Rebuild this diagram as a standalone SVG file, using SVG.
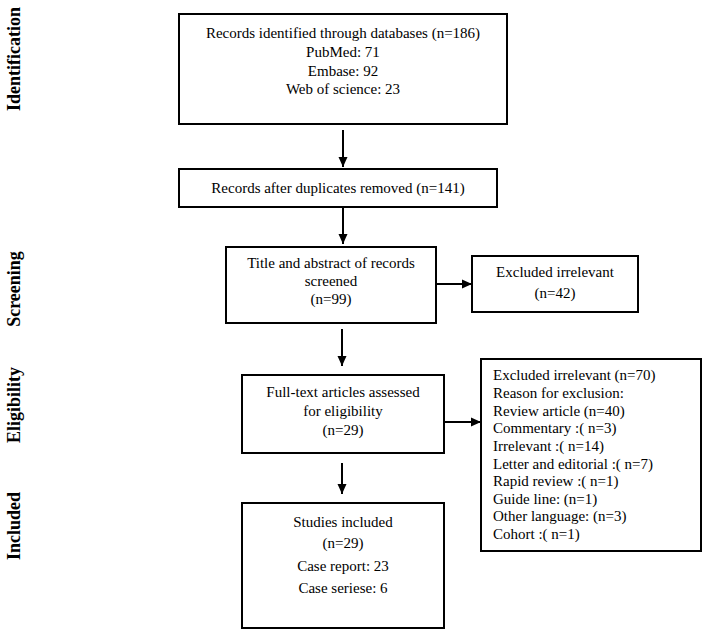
<svg xmlns="http://www.w3.org/2000/svg" width="708" height="636" viewBox="0 0 708 636">
<defs>
<style>
.box{fill:#fff;stroke:#000;stroke-width:2}
.t{font-family:"Liberation Serif","Times New Roman",serif;font-size:15px;fill:#000}
.c{text-anchor:middle}
.side{font-family:"Liberation Serif","Times New Roman",serif;font-size:18px;font-weight:bold;fill:#000;text-anchor:middle}
.conn{stroke:#000;stroke-width:2;fill:none;marker-end:url(#ah)}
</style>
<marker id="ah" markerUnits="userSpaceOnUse" markerWidth="10" markerHeight="10" refX="10" refY="5" orient="auto">
<path d="M0,0.5 L10,5 L0,9.5 Z" fill="#000"/>
</marker>
</defs>
<rect width="708" height="636" fill="#fff"/>
<g id="phase-labels">
<text class="side" transform="translate(20,59) rotate(-90)">Identification</text>
<text class="side" transform="translate(20,289) rotate(-90)">Screening</text>
<text class="side" transform="translate(20,405) rotate(-90)">Eligibility</text>
<text class="side" transform="translate(20,526) rotate(-90)">Included</text>
</g>
<g id="identified">
<rect class="box" x="179" y="14" width="328" height="110"/>
<text class="t c" x="343" y="38">Records identified through databases (n=186)</text>
<text class="t c" x="343" y="57">PubMed: 71</text>
<text class="t c" x="343" y="76">Embase: 92</text>
<text class="t c" x="343" y="94">Web of science: 23</text>
</g>
<g id="deduplicated">
<rect class="box" x="179" y="169" width="318" height="38"/>
<text class="t c" x="338" y="193">Records after duplicates removed (n=141)</text>
</g>
<g id="screened">
<rect class="box" x="226" y="247" width="210" height="76"/>
<text class="t c" x="331" y="268">Title and abstract of records</text>
<text class="t c" x="331" y="286">screened</text>
<text class="t c" x="331" y="304">(n=99)</text>
</g>
<g id="excluded-screening">
<rect class="box" x="472" y="256" width="166" height="56"/>
<text class="t c" x="555" y="277">Excluded irrelevant</text>
<text class="t c" x="555" y="298">(n=42)</text>
</g>
<g id="eligibility">
<rect class="box" x="242" y="375" width="202" height="78"/>
<text class="t c" x="343" y="397">Full-text articles assessed</text>
<text class="t c" x="343" y="416">for eligibility</text>
<text class="t c" x="343" y="435">(n=29)</text>
</g>
<g id="excluded-eligibility">
<rect class="box" x="481" y="359" width="220" height="192"/>
<text class="t" x="493" y="380">Excluded irrelevant (n=70)</text>
<text class="t" x="493" y="398">Reason for exclusion:</text>
<text class="t" x="493" y="416">Review article (n=40)</text>
<text class="t" x="493" y="433">Commentary :( n=3)</text>
<text class="t" x="493" y="451">Irrelevant :( n=14)</text>
<text class="t" x="493" y="469">Letter and editorial :( n=7)</text>
<text class="t" x="493" y="486">Rapid review :( n=1)</text>
<text class="t" x="493" y="504">Guide line: (n=1)</text>
<text class="t" x="493" y="521">Other language: (n=3)</text>
<text class="t" x="493" y="539">Cohort :( n=1)</text>
</g>
<g id="included">
<rect class="box" x="242" y="503" width="202" height="125"/>
<text class="t c" x="343" y="527">Studies included</text>
<text class="t c" x="343" y="548">(n=29)</text>
<text class="t c" x="343" y="571">Case report: 23</text>
<text class="t c" x="343" y="593">Case seriese: 6</text>
</g>
<g id="connectors">
<line class="conn" x1="343" y1="130" x2="343" y2="167"/>
<line class="conn" x1="343" y1="208" x2="343" y2="244"/>
<line class="conn" x1="342" y1="329" x2="342" y2="366"/>
<line class="conn" x1="342" y1="463" x2="342" y2="494"/>
<line class="conn" x1="437" y1="284" x2="472" y2="284"/>
<line class="conn" x1="445" y1="422" x2="481" y2="422"/>
</g>
</svg>
